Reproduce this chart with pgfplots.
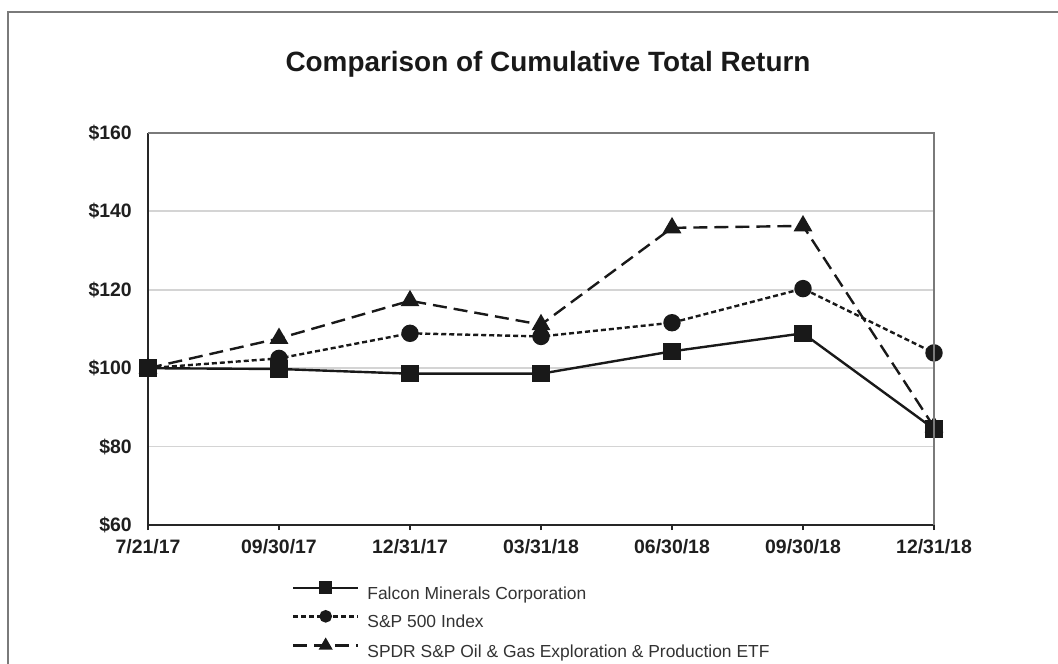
\documentclass[border=0pt]{standalone}
\usepackage{fontspec}
\setmainfont{Liberation Sans}
\usepackage{pgfplots}
\pgfplotsset{compat=1.18}
\definecolor{gridgray}{HTML}{D4D4D4}
\definecolor{framegray}{HTML}{7A7A7A}
\definecolor{legtext}{HTML}{333333}
\begin{document}
\begin{tikzpicture}
\useasboundingbox (0,0) rectangle (1058bp,664bp);
\fill[white] (0,0) rectangle (1058bp,664bp);
% outer frame
\draw[framegray, line width=1.5bp] (8bp,0bp) -- (8bp,652bp) -- (1058bp,652bp);
% title
\node[anchor=base, font=\bfseries\fontsize{28}{30}\selectfont, text=black!90] at (548bp,592bp) {Comparison of Cumulative Total Return};
\begin{axis}[
  at={(148bp,139bp)}, anchor=south west,
  scale only axis, width=786bp, height=392bp,
  xmin=0, xmax=6, ymin=60, ymax=160,
  axis lines=left, axis line style={-, line width=2.4bp, black!85},
  xtick={0,1,2,3,4,5,6},
  xticklabels={7/21/17,09/30/17,12/31/17,03/31/18,06/30/18,09/30/18,12/31/18},
  ytick={60,80,100,120,140,160},
  yticklabels={\$60,\$80,\$100,\$120,\$140,\$160},
  tick align=outside, major tick length=5bp,
  xtick style={line width=1.5bp, black!85},
  ytick style={draw=none},
  ymajorgrids, grid style={gridgray, line width=1.8bp},
  xticklabel style={font=\bfseries\fontsize{19.5}{20}\selectfont, text=black!88, inner sep=0pt, anchor=north, yshift=-9bp},
  yticklabel style={font=\bfseries\fontsize{19.5}{20}\selectfont, text=black!88, inner sep=0pt, anchor=east, xshift=-11bp},
  clip=false,
  reverse legend,
  legend cell align=left,
  legend style={draw=none, fill=none, at={(0.1832,-0.147)}, anchor=north west,
    inner sep=0pt, outer sep=0pt, row sep=9bp, column sep=8bp,
    nodes={inner sep=0pt, text height=13bp, text depth=3bp, text=legtext, font=\fontsize{17.5}{18}\selectfont}},
  legend image code/.code={
    \draw[mark repeat=2, mark phase=2, #1, every mark/.append style={scale=0.68}] plot coordinates {(0bp,6.5bp) (32.5bp,6.5bp) (65bp,6.5bp)};
  },
  after end axis/.code={
    \draw[framegray, line width=1.5bp] (rel axis cs:0,1) -- (rel axis cs:1,1) -- (rel axis cs:1,0);
  },
]
\addplot[black!90, line width=2.4bp, dash pattern=on 14bp off 7bp, mark=triangle*, mark size=8.5bp, mark options={solid}]
  coordinates {(0,100) (1,107.6) (2,117.2) (3,111.1) (4,135.8) (5,136.3) (6,85.0)};
\addlegendentry{SPDR S\&P Oil \& Gas Exploration \& Production ETF}
\addplot[black!90, line width=2.4bp, dash pattern=on 5bp off 3bp, mark=*, mark size=7.5bp, mark options={solid}]
  coordinates {(0,100) (1,102.5) (2,108.9) (3,108.1) (4,111.6) (5,120.3) (6,103.9)};
\addlegendentry{S\&P 500 Index}
\addplot[black!90, line width=2.4bp, solid, mark=square*, mark size=7.5bp, mark options={solid}]
  coordinates {(0,100) (1,99.8) (2,98.6) (3,98.6) (4,104.3) (5,108.9) (6,84.5)};
\addlegendentry{Falcon Minerals Corporation}
\end{axis}
\end{tikzpicture}
\end{document}
